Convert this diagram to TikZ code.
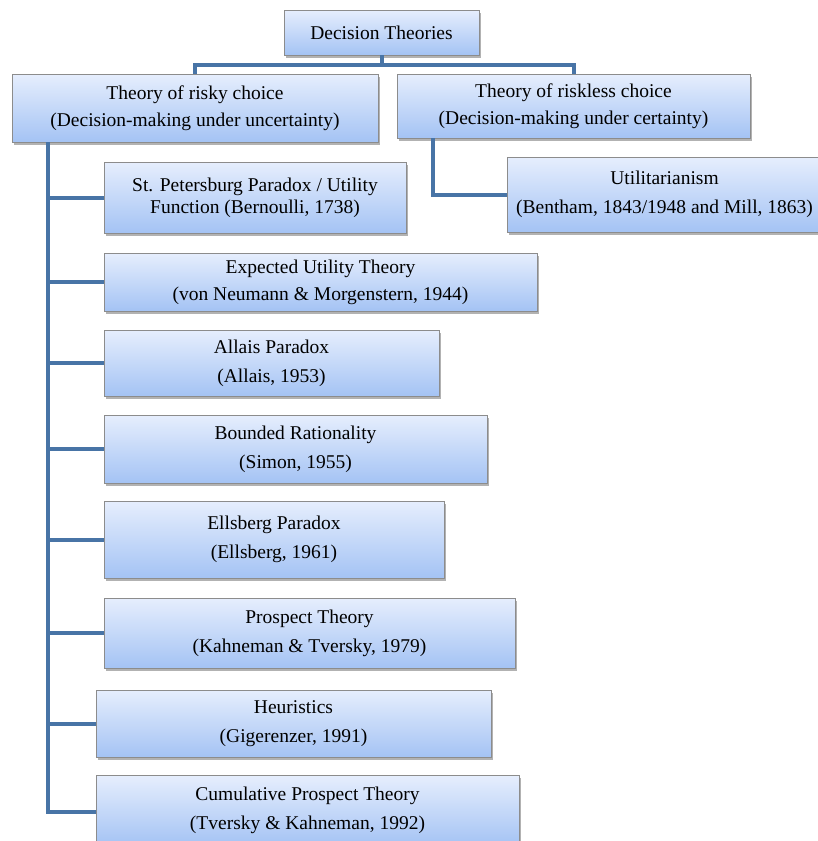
\documentclass[tikz,border=0pt]{standalone}
\usepackage{fontspec}
\setmainfont{Liberation Serif}
\usetikzlibrary{shadows}
\definecolor{boxtop}{RGB}{230,238,253}
\definecolor{boxbot}{RGB}{164,195,244}
\definecolor{boxline}{RGB}{140,140,140}
\definecolor{conncol}{RGB}{72,116,166}
\tikzset{
  box/.style={draw=boxline, line width=0.8pt, top color=boxtop, bottom color=boxbot,
    align=center, inner sep=0pt, rectangle,
    drop shadow={shadow xshift=2pt, shadow yshift=-2.5pt, fill=black, opacity=0.3},
    font=\fontsize{19.5}{27}\selectfont},
  tight/.style={font=\fontsize{19.5}{22}\selectfont},
  loose/.style={font=\fontsize{19.5}{29}\selectfont},
  conn/.style={draw=conncol, line width=4pt},
}
\begin{document}
\begin{tikzpicture}[x=1pt,y=-1pt]
\useasboundingbox (0,0) rectangle (818,841);
\fill[white] (0,0) rectangle (818,841);
\coordinate (tx) at (48,0);
\coordinate (rx) at (433,0);
% boxes
\node[box, minimum width=195pt, minimum height=45pt] (top) at (381.5,32.5) {Decision Theories};
\node[box, minimum width=366pt, minimum height=68pt] (risky) at (195,108) {Theory of risky choice\\(Decision-making under uncertainty)};
\node[box, minimum width=353pt, minimum height=64pt] (riskless) at (573.5,106) {Theory of riskless choice\\(Decision-making under certainty)};
\node[box, tight, minimum width=302pt, minimum height=71pt] (stp) at (255,197.5) {St. Petersburg Paradox / Utility\\Function (Bernoulli, 1738)};
\node[box, loose, minimum width=315pt, minimum height=75pt] (util) at (664.5,194.5) {Utilitarianism\\(Bentham, 1843/1948 and Mill, 1863)};
\node[box, minimum width=433pt, minimum height=58pt] (eut) at (320.5,282) {Expected Utility Theory\\(von Neumann \& Morgenstern, 1944)};
\node[box, loose, minimum width=335pt, minimum height=66pt] (allais) at (271.5,363) {Allais Paradox\\(Allais, 1953)};
\node[box, loose, minimum width=383pt, minimum height=68pt] (bounded) at (295.5,449) {Bounded Rationality\\(Simon, 1955)};
\node[box, loose, minimum width=340pt, minimum height=77pt] (ells) at (274,539.5) {Ellsberg Paradox\\(Ellsberg, 1961)};
\node[box, loose, minimum width=411pt, minimum height=70pt] (prospect) at (309.5,633) {Prospect Theory\\(Kahneman \& Tversky, 1979)};
\node[box, loose, minimum width=395pt, minimum height=67pt] (heur) at (293.5,723.5) {Heuristics\\(Gigerenzer, 1991)};
\node[box, loose, minimum width=423pt, minimum height=70pt, anchor=north] (cpt) at (307.5,775) {Cumulative Prospect Theory\\(Tversky \& Kahneman, 1992)};
% connectors
\draw[conn] (top.south) -- ++(0,10) -| (risky.north);
\draw[conn] (top.south) ++(0,10) -| (riskless.north);
\draw[conn] (tx |- risky.south) |- ([yshift=-2pt]cpt.west);
\foreach \n in {stp,eut,allais,bounded,ells,prospect,heur}
  \draw[conn] (tx |- \n.west) -- (\n.west);
\draw[conn] (rx |- riskless.south) |- (util.west);
\end{tikzpicture}
\end{document}
